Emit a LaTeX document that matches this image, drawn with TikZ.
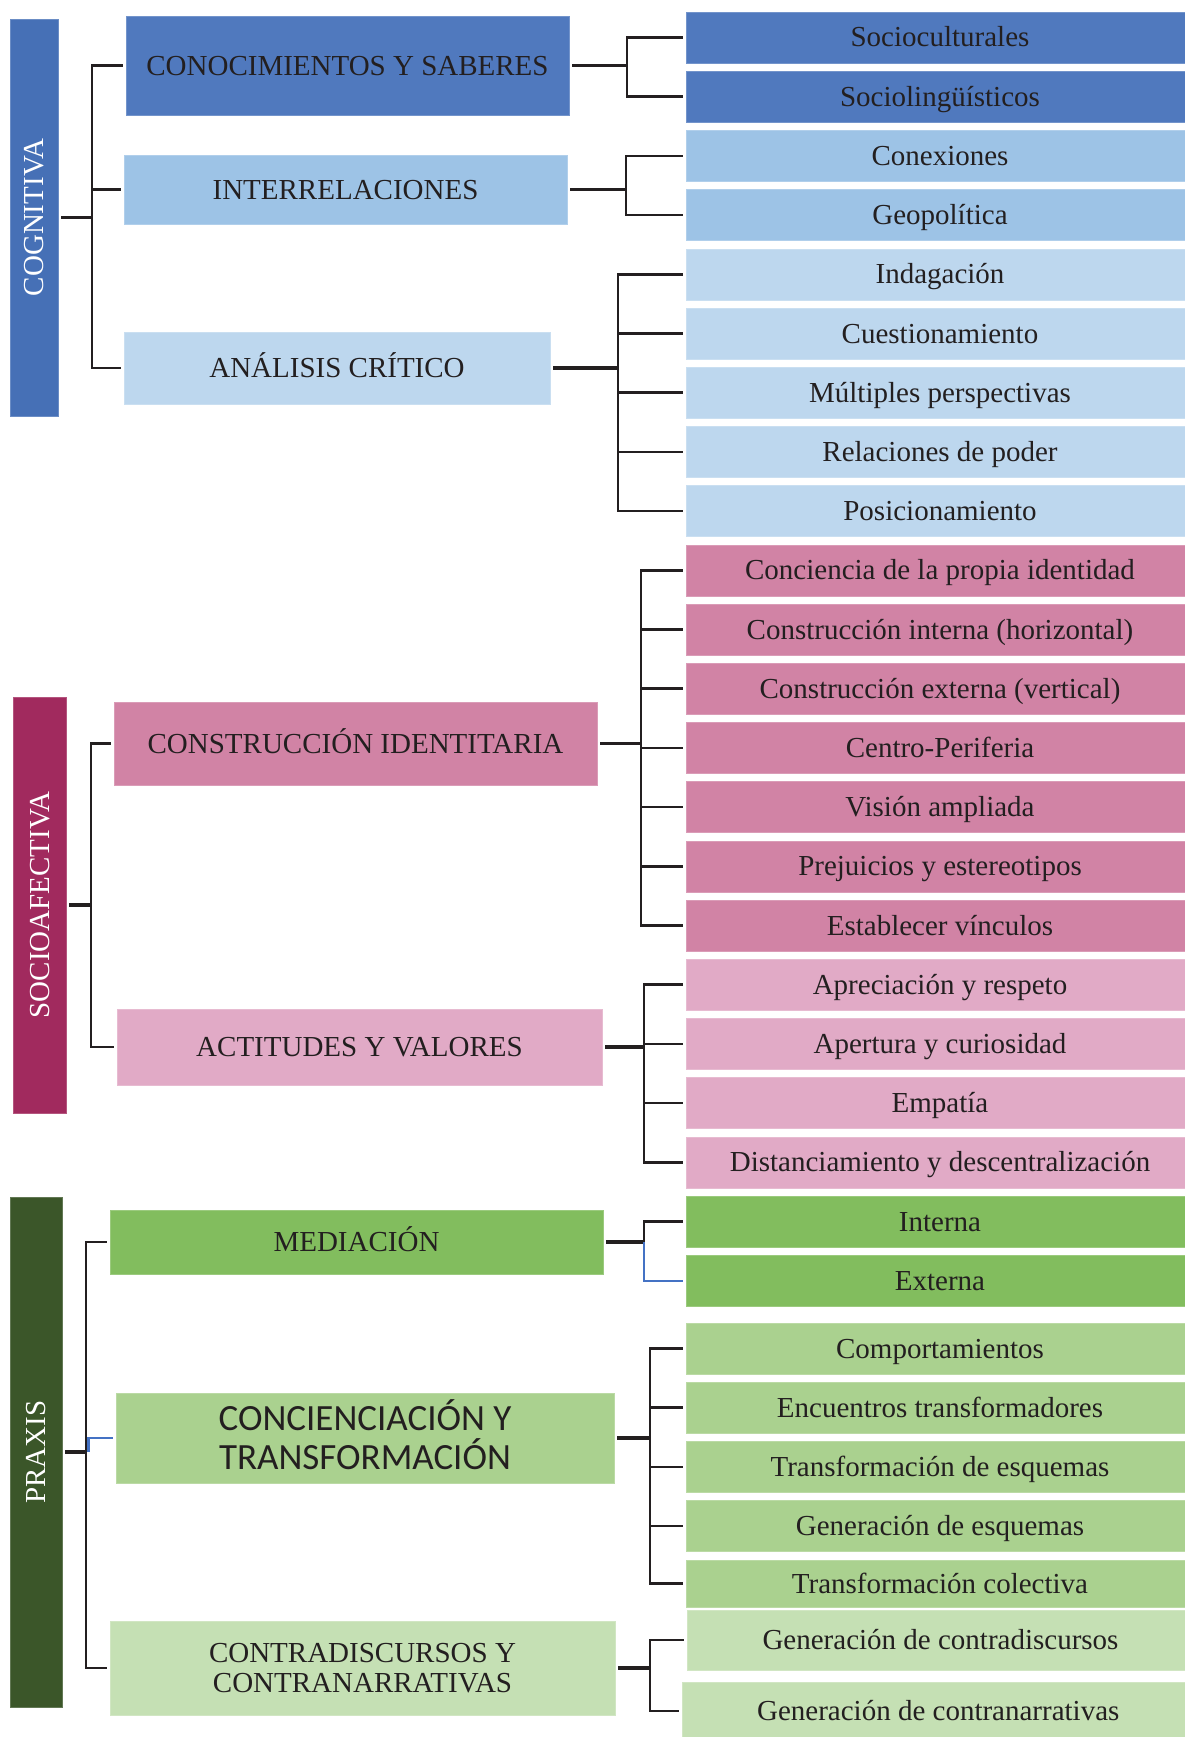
\documentclass[tikz,border=0pt]{standalone}
\usepackage{fontspec}
\setmainfont{Liberation Serif}
\newfontfamily\carlitofont{Carlito}

\definecolor{ink}{HTML}{231F20}
\definecolor{cogbar}{HTML}{4670B6}
\definecolor{blueA}{HTML}{5079BE}
\definecolor{blueB}{HTML}{9DC3E6}
\definecolor{blueC}{HTML}{BDD7EE}
\definecolor{sabar}{HTML}{A12A5E}
\definecolor{pinkA}{HTML}{D183A5}
\definecolor{pinkB}{HTML}{E1AAC6}
\definecolor{prbar}{HTML}{3B5629}
\definecolor{greenA}{HTML}{82BD5E}
\definecolor{greenB}{HTML}{AAD18F}
\definecolor{greenC}{HTML}{C5E0B4}
\definecolor{linkblue}{HTML}{4472C4}

% box given by its corners (x1,y1)-(x2,y2): name, x1, y1, x2, y2, options, text
\newcommand\mkbox[7]{%
  \pgfmathsetmacro\boxW{#4-#2}%
  \pgfmathsetmacro\boxH{#5-#3}%
  \pgfmathsetmacro\boxX{(#2+#4)/2}%
  \pgfmathsetmacro\boxY{(#3+#5)/2}%
  \node[lbl,#6,minimum width=\boxW pt,minimum height=\boxH pt] (#1) at (\boxX,\boxY) {#7};}

\begin{document}
\begin{tikzpicture}[x=1pt,y=-1pt,
  lbl/.style={inner sep=0pt,text=ink,align=center,
    font=\fontsize{29}{29}\selectfont,text height=24pt,text depth=5pt},
  panel/.style={fill=#1,draw=#1!80!white,line width=0.6pt},
  twoline/.style={text height={},text depth={},font=\fontsize{29}{30}\selectfont},
  sanslbl/.style={text height={},text depth={},
    font={\carlitofont\fontsize{37}{39}\selectfont}},
  bartxt/.style={rotate=90,text=white,inner sep=0pt,
    font=\fontsize{29}{29}\selectfont,text height=19.2pt,text depth=0pt},
  trunk/.style={draw=ink,line width=3.2pt,shorten <=3pt},
  twig/.style={draw=ink,line width=2.5pt,shorten >=3pt},
  bluetwig/.style={draw=linkblue,line width=2.4pt,shorten >=3pt},
]
\fill[white] (0,0) rectangle (1185,1737);
\useasboundingbox (0,0) rectangle (1185,1737);

% ---- dimension bars ----
\mkbox{cogbar}{10}{19}{58}{416}{panel=cogbar}{}
\node[bartxt] (cogtxt) at (cogbar.center) {COGNITIVA};
\mkbox{sabar}{13}{697}{66}{1113}{panel=sabar}{}
\node[bartxt] (satxt) at (sabar.center) {SOCIOAFECTIVA};
\mkbox{prbar}{10}{1197}{62}{1707}{panel=prbar}{}
\node[bartxt] (prtxt) at (prbar.center) {PRAXIS};

% ---- categories ----
\mkbox{conoc}{126}{16}{569}{115}{panel=blueA}{CONOCIMIENTOS Y SABERES}
\mkbox{inter}{124}{155}{567}{224}{panel=blueB}{INTERRELACIONES}
\mkbox{anal}{124}{332}{550}{404}{panel=blueC}{ANÁLISIS CRÍTICO}
\mkbox{ident}{114}{702}{597}{785}{panel=pinkA}{CONSTRUCCIÓN IDENTITARIA}
\mkbox{actit}{117}{1009}{602}{1085}{panel=pinkB}{ACTITUDES Y VALORES}
\mkbox{medi}{110}{1210}{603}{1274}{panel=greenA}{MEDIACIÓN}
\mkbox{conc}{116}{1393}{614}{1483}{panel=greenB,sanslbl}{\smash{CONCIENCIACIÓN} Y\\TRANSFORMACIÓN}
\mkbox{contra}{110}{1621}{615}{1715}{panel=greenC,twoline}{CONTRADISCURSOS Y\\CONTRANARRATIVAS}

% ---- items (the panels run on past the right edge of the page) ----
\foreach \nm/\tx/\col [count=\k from 0] in {
  soc1/Socioculturales/blueA, soc2/Sociolingüísticos/blueA,
  con1/Conexiones/blueB, con2/Geopolítica/blueB,
  an1/Indagación/blueC, an2/Cuestionamiento/blueC,
  an3/Múltiples perspectivas/blueC, an4/Relaciones de poder/blueC,
  an5/Posicionamiento/blueC,
  id1/Conciencia de la propia identidad/pinkA,
  id2/Construcción interna (horizontal)/pinkA,
  id3/Construcción externa (vertical)/pinkA,
  id4/Centro-Periferia/pinkA, id5/Visión ampliada/pinkA,
  id6/Prejuicios y estereotipos/pinkA, id7/Establecer vínculos/pinkA,
  av1/Apreciación y respeto/pinkB, av2/Apertura y curiosidad/pinkB,
  av3/Empatía/pinkB, av4/Distanciamiento y descentralización/pinkB,
  me1/Interna/greenA, me2/Externa/greenA}{
  \pgfmathsetmacro\yt{12+59.2*\k}
  \mkbox{\nm}{686}{\yt}{1194}{\yt+51}{panel=\col}{\tx}
}
\foreach \nm/\tx [count=\k from 0] in {
  ct1/Comportamientos, ct2/Encuentros transformadores,
  ct3/Transformación de esquemas, ct4/Generación de esquemas}{
  \pgfmathsetmacro\yt{1323+59.2*\k}
  \mkbox{\nm}{686}{\yt}{1194}{\yt+51}{panel=greenB}{\tx}
}
\mkbox{ct5}{686}{1560}{1194}{1607}{panel=greenB}{Transformación colectiva}
\mkbox{cd1}{687}{1610}{1194}{1670}{panel=greenC}{Generación de contradiscursos}
\mkbox{cd2}{682.5}{1682}{1194}{1740}{panel=greenC}{Generación de contranarrativas}

% ---- trunk positions ----
\coordinate (kA) at (92,0);
\coordinate (kB) at (91,0);
\coordinate (kC) at (86,0);
\coordinate (k1) at (627,0);
\coordinate (k2) at (626,0);
\coordinate (k3) at (618,0);
\coordinate (k4) at (641,0);
\coordinate (k5) at (644,0);
\coordinate (k6) at (644,0);
\coordinate (k7) at (650,0);
\coordinate (k8) at (650,0);

% ---- left connectors ----
\draw[trunk] (cogbar.east) -- (cogbar.east -| kA);
\foreach \c in {conoc,inter,anal}
  \draw[twig] (cogbar.east -| kA) |- (\c.west);
\draw[trunk] (sabar.east) -- (sabar.east -| kB);
\foreach \c in {ident,actit}
  \draw[twig] (sabar.east -| kB) |- (\c.west);
\draw[trunk] (prbar.east) -- (prbar.east -| kC);
\foreach \c in {medi,contra}
  \draw[twig] (prbar.east -| kC) |- (\c.west);
\draw[bluetwig] ([xshift=2.5pt]prbar.east -| kC) |- (conc.west);

% ---- right connectors ----
\draw[trunk] (conoc.east) -- (conoc.east -| k1);
\foreach \c in {soc1,soc2} \draw[twig] (conoc.east -| k1) |- (\c.west);
\draw[trunk] (inter.east) -- (inter.east -| k2);
\foreach \c in {con1,con2} \draw[twig] (inter.east -| k2) |- (\c.west);
\draw[trunk] (anal.east) -- (anal.east -| k3);
\foreach \c in {an1,an2,an3,an4,an5} \draw[twig] (anal.east -| k3) |- (\c.west);
\draw[trunk] (ident.east) -- (ident.east -| k4);
\foreach \c in {id1,id2,id3,id4,id5,id6,id7} \draw[twig] (ident.east -| k4) |- (\c.west);
\draw[trunk] (actit.east) -- (actit.east -| k5);
\foreach \c in {av1,av2,av3,av4} \draw[twig] (actit.east -| k5) |- (\c.west);
\draw[trunk] (medi.east) -- (medi.east -| k6);
\draw[twig] (medi.east -| k6) |- (me1.west);
\draw[bluetwig] (medi.east -| k6) |- (me2.west);
\draw[trunk] (conc.east) -- (conc.east -| k7);
\foreach \c in {ct1,ct2,ct3,ct4,ct5} \draw[twig] (conc.east -| k7) |- (\c.west);
\draw[trunk] (contra.east) -- (contra.east -| k8);
\foreach \c in {cd1,cd2} \draw[twig] (contra.east -| k8) |- (\c.west);
\end{tikzpicture}
\end{document}
